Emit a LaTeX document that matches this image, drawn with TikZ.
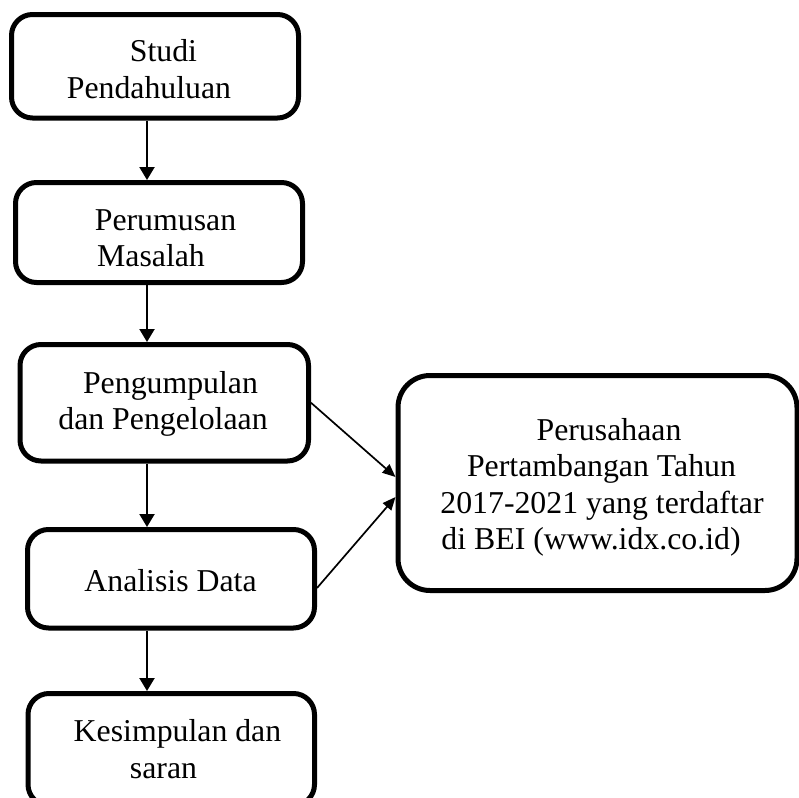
\documentclass[tikz,border=0pt]{standalone}
\usepackage{fontspec}
\setmainfont{Liberation Serif}
\usetikzlibrary{arrows.meta,calc}
\begin{document}
\begin{tikzpicture}[x=0.5pt,y=-0.5pt,
  box/.style={draw, line width=2.5pt, rounded corners=10.5pt, inner sep=0pt},
  bigbox/.style={draw, line width=2.5pt, rounded corners=16pt, inner sep=0pt},
  txt/.style={align=center, inner sep=0pt, font=\fontsize{15.9pt}{18.3pt}\selectfont},
  vline/.style={line width=1.1pt, -{Triangle[width=7.5pt,length=6.5pt]}},
  dline/.style={line width=0.85pt, -{Triangle[width=5.5pt,length=6.5pt]}}]
\useasboundingbox (0,0) rectangle (799,798);
\clip (0,0) rectangle (799,798);
% boxes
\node[box, minimum width=143.5pt, minimum height=51.75pt] (b1) at (155,66.25) {};
\node[box, minimum width=143.5pt, minimum height=50pt] (b2) at (159,232.5) {};
\node[box, minimum width=144.25pt, minimum height=58.25pt] (b3) at (164.25,402.75) {};
\node[box, minimum width=143.5pt, minimum height=49.25pt] (b4) at (171,578.75) {};
\node[box, minimum width=143.25pt, minimum height=56pt] (b5) at (171.25,749.5) {};
\node[bigbox, minimum width=199.5pt, minimum height=107.5pt] (r) at (597.5,483) {};
% texts
\node[txt] (t1) at (156.25,72.7) {\hspace*{7.25pt}\strut Studi\\\hspace*{-7.25pt}\strut Pendahuluan};
\node[txt] (t2) at (158.25,241.3) {\hspace*{7.25pt}\strut Perumusan\\\hspace*{-7.25pt}\strut Masalah};
\node[txt] (t3) at (166.75,404) {\hspace*{3.75pt}\strut Pengumpulan\\\hspace*{-3.75pt}\strut dan Pengelolaan};
\node[txt] (t4) at (170.5,583.7) {\strut Analisis Data};
\node[txt] (t5) at (170.5,752.7) {\hspace*{7pt}\strut Kesimpulan dan\\\hspace*{-7pt}\strut saran};
\node[txt] (tr) at (602,487.7) {\hspace*{7pt}\strut Perusahaan\\\hspace*{-0.5pt}\strut Pertambangan Tahun\\\strut 2017-2021 yang terdaftar\\\hspace*{-11pt}\strut di BEI (www.idx.co.id)};
% connectors
\coordinate (ax) at (147,0);
\draw[vline] (b1.south -| ax) -- (b2.north -| ax);
\draw[vline] (b2.south -| ax) -- (b3.north -| ax);
\draw[vline] (b3.south -| ax) -- (b4.north -| ax);
\draw[vline] (b4.south -| ax) -- (b5.north -| ax);
\draw[dline] (b3.east) -- ($(r.west)+(0,-6)$);
\draw[dline] ($(b4.east)+(0,9.25)$) -- ($(r.west)+(0,14)$);
\end{tikzpicture}
\end{document}
